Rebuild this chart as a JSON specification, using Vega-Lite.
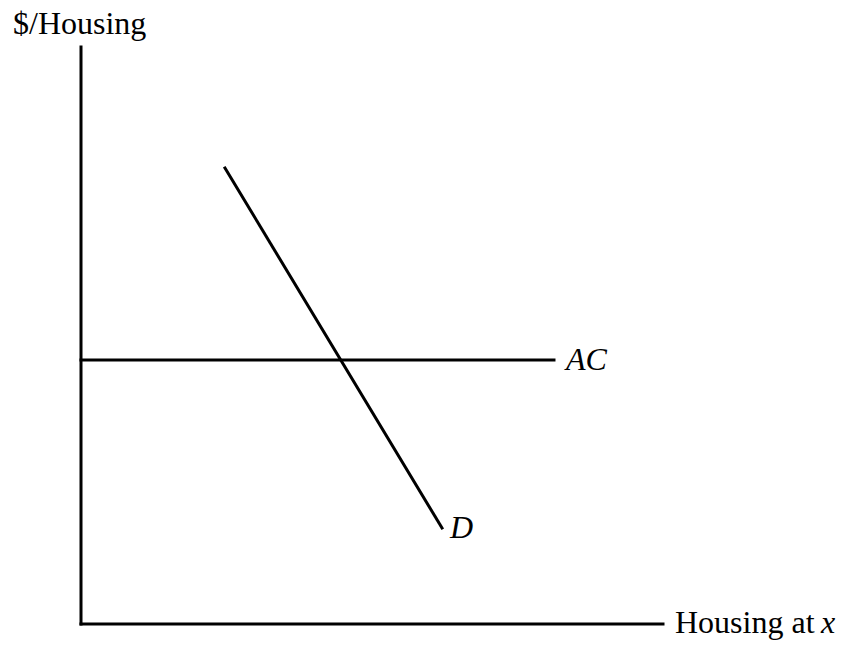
{
  "$schema": "https://vega.github.io/schema/vega-lite/v6.json",
  "width": 582,
  "height": 577,
  "autosize": {"type": "none"},
  "padding": {"left": 81, "top": 47, "right": 183, "bottom": 23},
  "background": "white",
  "config": {"view": {"stroke": null}},
  "datasets": {
    "segments": [
      {"name": "y-axis", "x": 0, "y": 0, "x2": 0, "y2": 100},
      {"name": "x-axis", "x": 0, "y": 0, "x2": 100, "y2": 0},
      {"name": "AC", "x": 0, "y": 45.75, "x2": 81.27, "y2": 45.75},
      {"name": "D", "x": 24.74, "y": 79.03, "x2": 62.03, "y2": 16.64}
    ],
    "labels": [
      {"text": "$/Housing", "x": -11.68, "y": 102.25, "style": "normal"},
      {"text": "Housing at", "x": 102.06, "y": -1.56, "style": "normal"},
      {"text": "x", "x": 127.15, "y": -1.56, "style": "italic"},
      {"text": "AC", "x": 83.33, "y": 44.02, "style": "italic"},
      {"text": "D", "x": 63.4, "y": 14.9, "style": "italic"}
    ]
  },
  "layer": [
    {
      "data": {"name": "segments"},
      "mark": {"type": "rule", "color": "black", "strokeWidth": 3, "strokeCap": "square"},
      "encoding": {
        "x": {"field": "x", "type": "quantitative", "scale": {"domain": [0, 100], "nice": false, "zero": false}, "axis": null},
        "y": {"field": "y", "type": "quantitative", "scale": {"domain": [0, 100], "nice": false, "zero": false}, "axis": null},
        "x2": {"field": "x2"},
        "y2": {"field": "y2"}
      }
    },
    {
      "data": {"name": "labels"},
      "transform": [{"filter": "datum.style === 'normal'"}],
      "mark": {"type": "text", "font": "Liberation Serif", "fontSize": 32, "align": "left", "baseline": "alphabetic", "color": "black"},
      "encoding": {
        "x": {"field": "x", "type": "quantitative", "scale": {"domain": [0, 100], "nice": false, "zero": false}, "axis": null},
        "y": {"field": "y", "type": "quantitative", "scale": {"domain": [0, 100], "nice": false, "zero": false}, "axis": null},
        "text": {"field": "text"}
      }
    },
    {
      "data": {"name": "labels"},
      "transform": [{"filter": "datum.style === 'italic'"}],
      "mark": {"type": "text", "font": "Liberation Serif", "fontSize": 32, "fontStyle": "italic", "align": "left", "baseline": "alphabetic", "color": "black"},
      "encoding": {
        "x": {"field": "x", "type": "quantitative", "scale": {"domain": [0, 100], "nice": false, "zero": false}, "axis": null},
        "y": {"field": "y", "type": "quantitative", "scale": {"domain": [0, 100], "nice": false, "zero": false}, "axis": null},
        "text": {"field": "text"}
      }
    }
  ]
}
